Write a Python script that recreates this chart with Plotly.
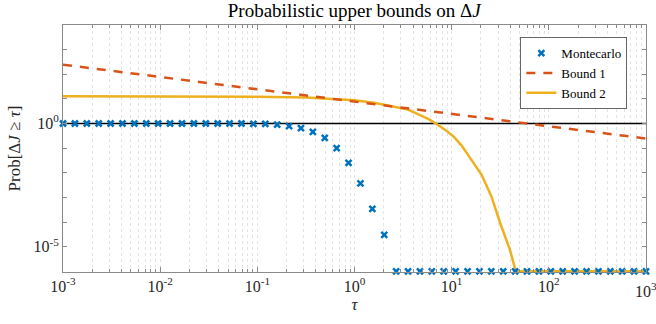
import numpy as np
import plotly.graph_objects as go

# ---------------- data ----------------
tau_mc = np.logspace(-3, 3, 50)  # Monte Carlo evaluation grid (50 log-spaced points)
prob_mc = [1.0] * 16 + [
    0.97, 0.96, 0.91, 0.79, 0.65, 0.46, 0.26, 0.10, 0.025, 0.0037, 3.4e-4, 3.0e-5,
] + [1e-6] * 22

tau_b1 = [1e-3, 1e-2, 1e-1, 1.0, 10.0, 100.0, 1000.0]
prob_b1 = [245.0, 78.0, 24.5, 7.8, 2.45, 0.78, 0.245]

tau_b2 = [0.001, 0.01, 0.1, 0.316, 0.562, 1.0, 1.585, 2.14, 2.82, 3.55, 4.73, 5.8, 7.0,
          8.6, 10.5, 12.6, 14.8, 17.4, 20.4, 25.7, 31.6, 39.8, 45.7, 1000.0]
prob_b2 = [12.7, 12.7, 12.3, 11.5, 10.2, 8.7, 6.9, 5.5, 4.6, 3.7, 2.19, 1.5, 0.95,
           0.55, 0.29, 0.13, 0.052, 0.02, 0.0081, 0.00107, 8.9e-5, 7.4e-6, 1e-6, 1e-6]

ref_x = [1e-3, 1e3]
ref_y = [1.0, 1.0]

x_major = [1e-3, 1e-2, 1e-1, 1e0, 1e1, 1e2, 1e3]
x_labels = ["10<sup>-3</sup>", "10<sup>-2</sup>", "10<sup>-1</sup>", "10<sup>0</sup>",
            "10<sup>1</sup>", "10<sup>2</sup>", "10<sup>3</sup>"]
y_ticks = [1e-6, 1e-5, 1e-4, 1e-3, 1e-2, 1e-1, 1e0, 1e1, 1e2, 1e3, 1e4]
y_labels = ["", "10<sup>-5</sup>", "", "", "", "", "10<sup>0</sup>", "", "", "", ""]

x_minor = [m * 10.0 ** e for e in range(-3, 3) for m in range(2, 10)]

# ---------------- figure ----------------
FONT = "Liberation Serif, DejaVu Serif, serif"
TXT = "#262626"
AX = "#8a8a8a"
GRID = "#e3e3e3"

fig = go.Figure()

fig.add_trace(go.Scatter(x=ref_x, y=ref_y, mode="lines",
                         line=dict(color="black", width=1.3),
                         showlegend=False, hoverinfo="skip"))

fig.add_trace(go.Scatter(x=tau_b2, y=prob_b2, mode="lines", name="Bound 2",
                         line=dict(color="#EDB120", width=2.5),
                         cliponaxis=False, legendrank=3))

fig.add_trace(go.Scatter(x=tau_mc, y=prob_mc, mode="markers", name="Montecarlo",
                         marker=dict(symbol="x-thin", size=6, color="#0072BD",
                                     line=dict(color="#0072BD", width=2.5)),
                         cliponaxis=False, legendrank=1))

fig.add_trace(go.Scatter(x=tau_b1, y=prob_b1, mode="lines", name="Bound 1",
                         line=dict(color="#D95319", width=2.5, dash="9px,8px"),
                         legendrank=2))

# last x tick label (Plotly hides it since it overflows the page edge; the reference shows it cut)
fig.add_annotation(x=np.log10(x_major[-1]), xref="x", y=0, yref="paper", yanchor="top",
                   yshift=-6, text=x_labels[-1], showarrow=False,
                   font=dict(family=FONT, size=16, color=TXT))

fig.update_layout(
    width=656, height=324,
    margin=dict(l=63, r=10, t=25, b=52),
    paper_bgcolor="white", plot_bgcolor="white",
    font=dict(family=FONT, size=15, color=TXT),
    title=dict(text="Probabilistic upper bounds on Δ<i>J</i>", x=0.54, xanchor="center",
               y=0.968, yanchor="middle", font=dict(family=FONT, size=19, color="black")),
    legend=dict(x=0.968, xanchor="right", y=0.951, yanchor="top",
                bgcolor="white", bordercolor="#666666", borderwidth=1,
                font=dict(family=FONT, size=13, color="black"),
                itemwidth=30, tracegroupgap=0, traceorder="normal"),
    showlegend=True,
)

fig.update_xaxes(
    type="log", range=[-3, 3],
    tickmode="array", tickvals=x_major, ticktext=x_labels,
    ticks="inside", ticklen=5, tickcolor=AX, tickwidth=1,
    showline=True, linecolor=AX, linewidth=1, mirror="ticks",
    showgrid=True, gridcolor=GRID, griddash="dot", gridwidth=1,
    minor=dict(tickmode="array", tickvals=x_minor, ticks="inside", ticklen=3,
               tickcolor=AX, showgrid=True, gridcolor=GRID, griddash="dot"),
    tickfont=dict(family=FONT, size=16, color=TXT),
    title=dict(text="<i>τ</i>", standoff=2, font=dict(family=FONT, size=17, color=TXT)),
    zeroline=False, automargin=False,
)

fig.update_yaxes(
    type="log", range=[-6.03, 4],
    tickmode="array", tickvals=y_ticks, ticktext=y_labels,
    ticks="inside", ticklen=4, tickcolor=AX, tickwidth=1,
    showline=True, linecolor=AX, linewidth=1, mirror="ticks",
    showgrid=False,
    tickfont=dict(family=FONT, size=16, color=TXT),
    title=dict(text="Prob[Δ<i>J</i> ≥ <i>τ</i>]", standoff=8,
               font=dict(family=FONT, size=17, color=TXT)),
    zeroline=False, automargin=False,
)

fig.write_html("out.html",
               config={"displayModeBar": False, "staticPlot": True},
               post_script="document.body.style.margin='0';document.body.style.overflow='hidden';")
